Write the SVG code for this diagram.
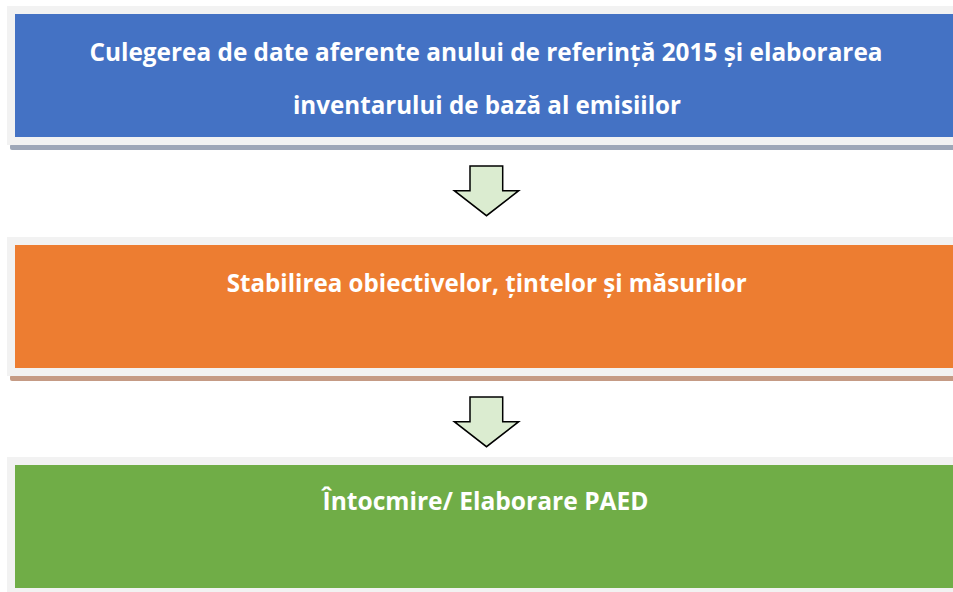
<svg xmlns="http://www.w3.org/2000/svg" width="953" height="592" viewBox="0 0 953 592">
<style>
.frame{fill:#f2f2f2}
.t{font-family:"Open Sans","Liberation Sans",sans-serif;font-weight:bold;font-size:25px;fill:#ffffff;text-anchor:middle}
.arrow{fill:#dbecd0;stroke:#000000;stroke-width:1.5;stroke-linejoin:miter}
</style>
<rect x="0" y="0" width="953" height="592" fill="#ffffff"/>
<g id="node1">
<rect x="10" y="144" width="960" height="6" rx="2" fill="#9ea7b8"/>
<rect class="frame" x="7" y="6" width="960" height="139"/>
<rect x="15" y="14" width="950" height="123" fill="#4472c4"/>
<text class="t" x="486" y="60.5" textLength="793" lengthAdjust="spacingAndGlyphs">Culegerea de date aferente anului de referință 2015 și elaborarea</text>
<text class="t" x="487" y="113.5" textLength="388" lengthAdjust="spacingAndGlyphs">inventarului de bază al emisiilor</text>
</g>
<g id="node2">
<rect x="10" y="375" width="960" height="6" rx="2" fill="#c59b85"/>
<rect class="frame" x="7" y="237" width="960" height="139"/>
<rect x="15" y="245" width="950" height="123" fill="#ed7d31"/>
<text class="t" x="486.7" y="291.5" textLength="520" lengthAdjust="spacingAndGlyphs">Stabilirea obiectivelor, țintelor și măsurilor</text>
</g>
<g id="node3">
<rect class="frame" x="7" y="457" width="960" height="140"/>
<rect x="15" y="465" width="950" height="123" fill="#70ad47"/>
<text class="t" x="485.5" y="509.5" textLength="326" lengthAdjust="spacingAndGlyphs">Întocmire/ Elaborare PAED</text>
</g>
<g id="connectors">
<polygon class="arrow" points="470,166 502.7,166 502.7,190.7 518.7,190.7 486.5,215.7 454.3,190.7 470,190.7"/>
<polygon class="arrow" points="470,397 502.7,397 502.7,421.7 518.7,421.7 486.5,446.7 454.3,421.7 470,421.7"/>
</g>
</svg>
